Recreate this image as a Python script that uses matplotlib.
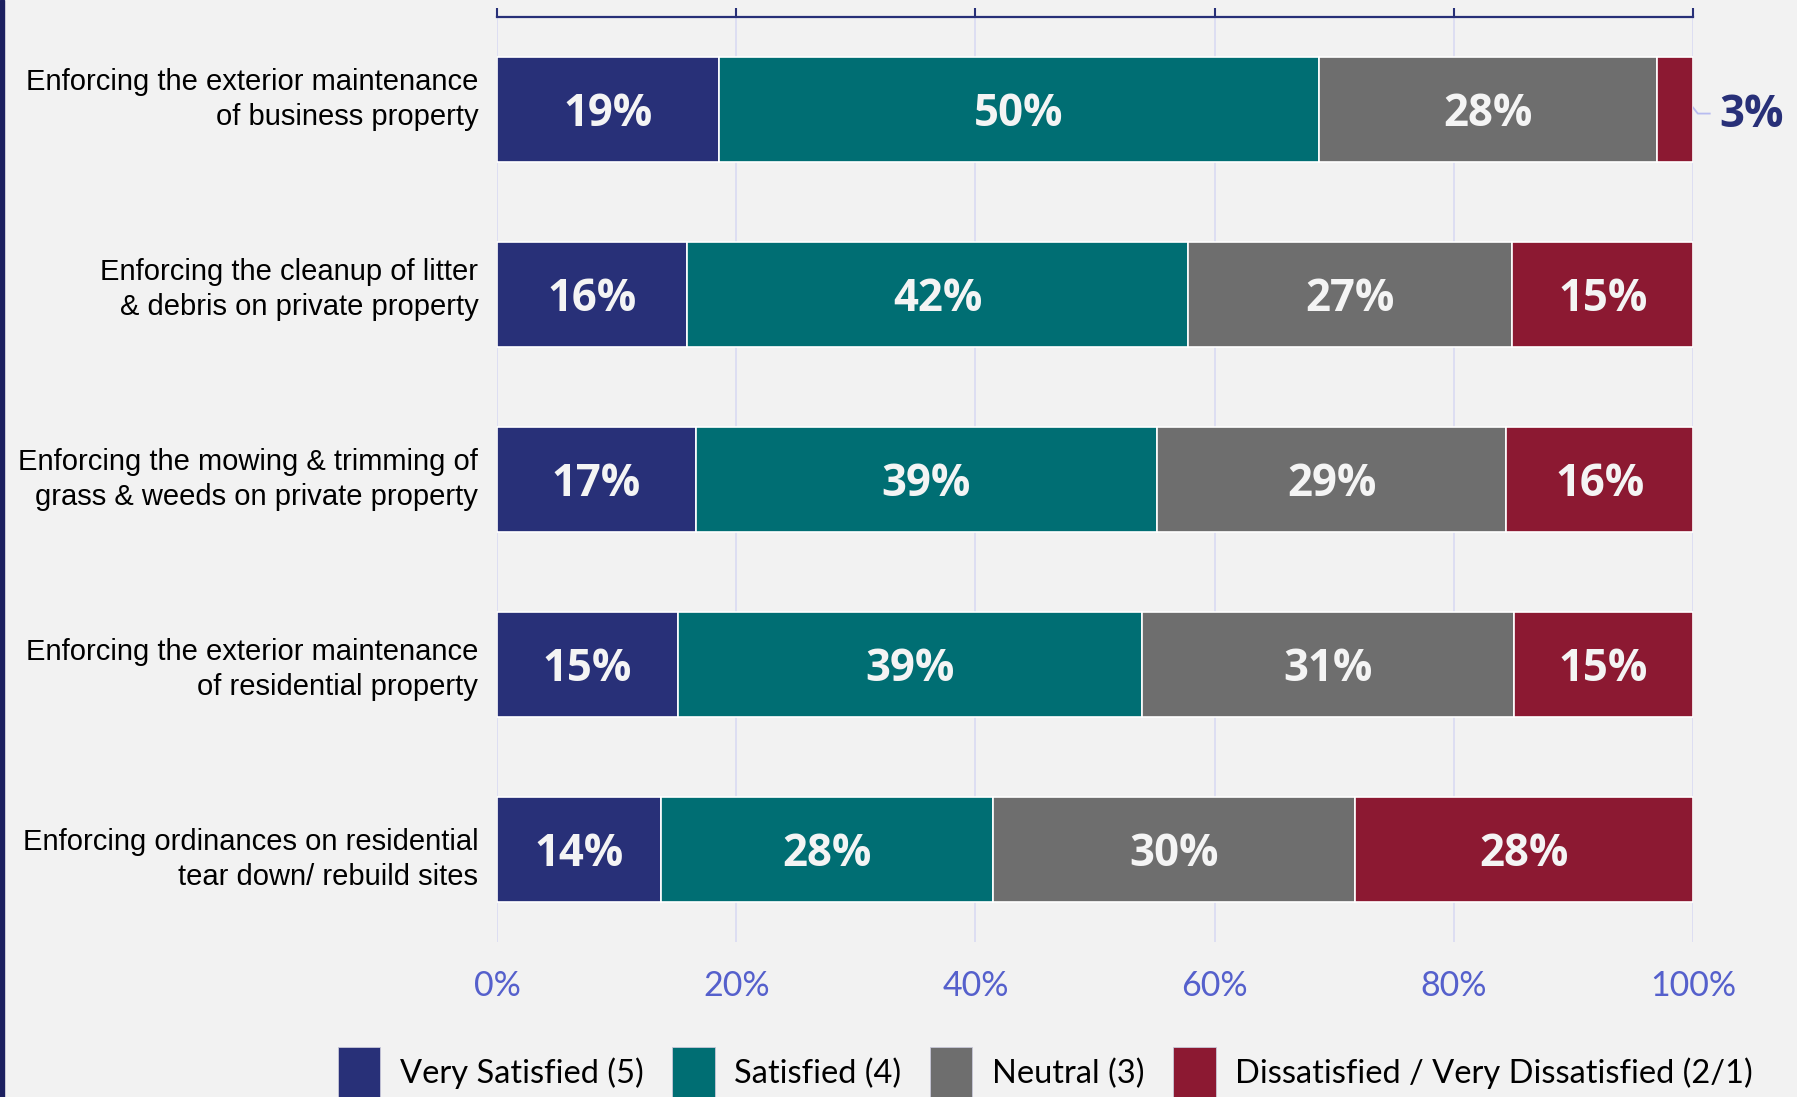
import matplotlib.pyplot as plt
from matplotlib.patches import Patch, Rectangle

categories = [
    "Enforcing the exterior maintenance\nof business property",
    "Enforcing the cleanup of litter\n& debris on private property",
    "Enforcing the mowing & trimming of\ngrass & weeds on private property",
    "Enforcing the exterior maintenance\nof residential property",
    "Enforcing ordinances on residential\ntear down/ rebuild sites",
]
very_satisfied = [18.6, 15.9, 16.6, 15.1, 13.7]
satisfied = [50.1, 41.9, 38.6, 38.8, 27.8]
neutral = [28.3, 27.1, 29.2, 31.1, 30.2]
dissatisfied = [3.0, 15.1, 15.6, 15.0, 28.3]

series = [very_satisfied, satisfied, neutral, dissatisfied]
names = ["Very Satisfied (5)", "Satisfied (4)", "Neutral (3)",
         "Dissatisfied / Very Dissatisfied (2/1)"]
colors = ["#283078", "#006e73", "#6e6e6e", "#8c1932"]
navy = "#283078"
bg = "#f2f2f2"

fig = plt.figure(figsize=(17.97, 10.97), dpi=100, facecolor=bg)
ax = fig.add_axes([497 / 1797, 1 - 942 / 1097, 1196 / 1797, 925 / 1097])
ax.set_facecolor(bg)

y = list(range(len(categories)))
left = [0] * len(categories)
for vals, name, col in zip(series, names, colors):
    bars = ax.barh(y, vals, left=left, height=0.565, color=col,
                   edgecolor="white", linewidth=1.2, label=name, zorder=3)
    for b, v, l in zip(bars, vals, left):
        if v >= 5:
            ax.text(l + v / 2, b.get_y() + b.get_height() / 2 + 0.025, f"{v:.0f}%",
                    ha="center", va="center", color="#f4f4f4",
                    fontsize=31.5, fontweight="bold", family="Open Sans", zorder=4)
    left = [a + b for a, b in zip(left, vals)]

# small segment label outside the bar
for i, v in enumerate(dissatisfied):
    if v < 5:
        ax.plot([100, 100.4, 101.4], [i - 0.011, i + 0.022, i + 0.022],
                color="#b8bcf0", lw=1.3, clip_on=False, zorder=2)
        ax.text(102.2, i + 0.035, f"{v:.0f}%", ha="left", va="center",
                color=navy, fontsize=31.5, fontweight="bold", family="Open Sans")

ax.set_xlim(0, 100)
ax.set_ylim(4.5, -0.5)
ax.set_xticks([0, 20, 40, 60, 80, 100])
ax.set_xticklabels([f"{t}%" for t in [0, 20, 40, 60, 80, 100]],
                   family="Lato", fontsize=24.5)
ax.tick_params(axis="x", top=True, bottom=False, direction="out", length=6.5,
               width=1.5, color=navy, labelcolor="#5560cc", pad=14)

# category labels sit on a slightly wider pitch than the bars
label_pos = [i * 1.027 - 0.091 for i in y]
ax.set_yticks(label_pos)
ax.set_yticklabels(categories, family="Liberation Sans", fontsize=21,
                   linespacing=1.32)
ax.tick_params(axis="y", length=0, pad=13.5, labelcolor="black")

ax.grid(axis="x", color="#d9dbf2", linewidth=1.2, zorder=0)
ax.grid(axis="y", visible=False)
for s in ["left", "right", "bottom"]:
    ax.spines[s].set_visible(False)
ax.spines["top"].set_color(navy)
ax.spines["top"].set_linewidth(1.6)

handles = [Patch(facecolor=c, edgecolor="#c8c8d8", linewidth=0.6) for c in colors]
fig.legend(handles, names, loc="center", bbox_to_anchor=(0.5817, 1 - 1073 / 1097),
           ncol=4, frameon=False, prop={"family": "Lato", "size": 23.5},
           handlelength=1.3, handleheight=2.05, handletextpad=0.6,
           columnspacing=0.88)

# dark rule along the left edge
fig.add_artist(Rectangle((0, 0), 4 / 1797, 1, transform=fig.transFigure,
                         color="#1c2060", zorder=10))

fig.savefig("out.png", dpi=100, facecolor=bg)
